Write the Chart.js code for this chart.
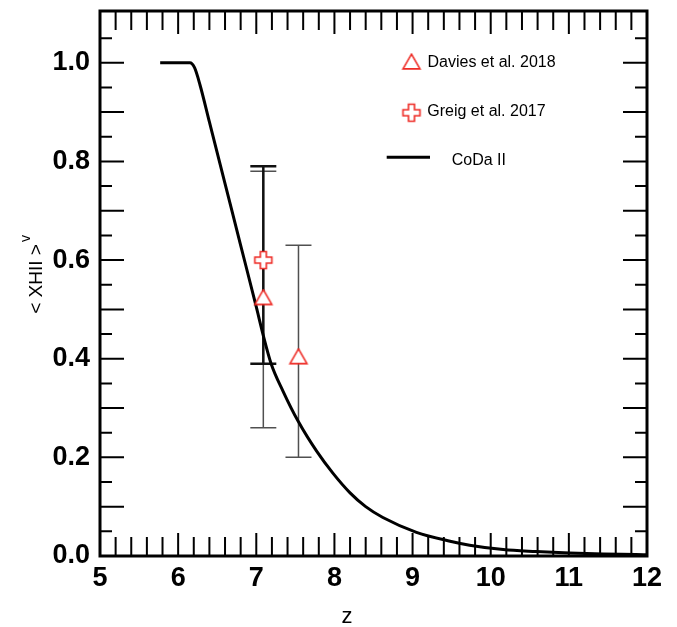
<!DOCTYPE html>
<html>
<head>
<meta charset="utf-8">
<script src="https://cdn.jsdelivr.net/npm/chart.js@4.4.1/dist/chart.umd.min.js"></script>
<style>
  html, body { margin: 0; padding: 0; background: #fff; }
  #wrap { width: 677px; height: 627px; }
</style>
</head>
<body>
<div id="wrap"><canvas id="xhiiChart" width="677" height="627"></canvas></div>
<script>
// CoDa II volume-weighted ionized fraction against redshift
const codaZ = [5.77, 6.15, 6.21, 6.28, 6.40, 6.60, 6.80, 7.00, 7.09, 7.19, 7.34, 7.54, 7.77, 7.98,
               8.20, 8.40, 8.62, 9.05, 9.48, 9.73, 10.16, 10.58, 11.01, 11.44, 11.86, 12.0];
const codaX = [1.0, 1.0, 0.99, 0.955, 0.88, 0.755, 0.63, 0.505, 0.447, 0.39, 0.335, 0.272, 0.213, 0.168,
               0.128, 0.100, 0.078, 0.048, 0.030, 0.022, 0.013, 0.009, 0.006, 0.004, 0.003, 0.0025];

// Davies et al. 2018 quasar constraints
const daviesZ  = [7.09, 7.54];
const daviesX  = [0.52, 0.40];
const daviesLo = [0.26, 0.20];
const daviesHi = [0.78, 0.63];

// Greig et al. 2017
const greigZ  = [7.09];
const greigX  = [0.60];
const greigLo = [0.39];
const greigHi = [0.79];

const xTickLabels = [5, 6, 7, 8, 9, 10, 11, 12];
const yTickLabels = [0.0, 0.2, 0.4, 0.6, 0.8, 1.0];

const RED = '#ee2a24';
const FONT = '"Liberation Sans", Arial, Helvetica, sans-serif';

function makeMarker(kind) {
  const c = document.createElement('canvas');
  c.width = 22; c.height = 22;
  const g = c.getContext('2d');
  g.translate(11, 11);
  g.beginPath();
  if (kind === 'triangle') {
    const r = 9.8;
    g.moveTo(0, -r);
    g.lineTo(r * 0.866, r / 2);
    g.lineTo(-r * 0.866, r / 2);
  } else {
    const a = 3, L = 8.5;
    g.moveTo(-a, -L); g.lineTo(a, -L); g.lineTo(a, -a); g.lineTo(L, -a);
    g.lineTo(L, a); g.lineTo(a, a); g.lineTo(a, L); g.lineTo(-a, L);
    g.lineTo(-a, a); g.lineTo(-L, a); g.lineTo(-L, -a); g.lineTo(-a, -a);
  }
  g.closePath();
  g.fillStyle = '#fff';
  g.fill();
  g.strokeStyle = RED;
  g.lineWidth = 1.6;
  g.stroke();
  return c;
}

const triMarker = makeMarker('triangle');
const plusMarker = makeMarker('plus');

const near = (v, list) => list.some(t => Math.abs(v - t) < 1e-6);

// vertical error bars with flat caps, drawn under the markers and the curve
const errorBars = {
  id: 'errorBars',
  beforeDatasetsDraw(chart) {
    const { ctx, scales: { x, y } } = chart;
    chart.data.datasets.forEach(ds => {
      if (!ds.errLo) return;
      ctx.save();
      ctx.strokeStyle = ds.errColor;
      ctx.lineWidth = ds.errWidth;
      ds.data.forEach((p, j) => {
        const px = x.getPixelForValue(p.x);
        const lo = y.getPixelForValue(ds.errLo[j]);
        const hi = y.getPixelForValue(ds.errHi[j]);
        ctx.beginPath();
        ctx.moveTo(px, lo); ctx.lineTo(px, hi);
        ctx.moveTo(px - 13, lo); ctx.lineTo(px + 13, lo);
        ctx.moveTo(px - 13, hi); ctx.lineTo(px + 13, hi);
        ctx.stroke();
      });
      ctx.restore();
    });
  }
};

// box frame with inward ticks on all four sides, legend and axis titles
const frameAndLegend = {
  id: 'frameAndLegend',
  afterDraw(chart) {
    const { ctx, chartArea: a, scales: { x, y } } = chart;
    ctx.save();
    ctx.strokeStyle = '#000';
    ctx.lineWidth = 2;
    ctx.beginPath();
    x.ticks.forEach(t => {
      const px = x.getPixelForValue(t.value);
      if (px < a.left + 3 || px > a.right - 3) return;
      const len = Math.abs(t.value - Math.round(t.value)) < 1e-6 ? 23 : 19;
      ctx.moveTo(px, a.bottom); ctx.lineTo(px, a.bottom - len);
      ctx.moveTo(px, a.top); ctx.lineTo(px, a.top + len);
    });
    y.ticks.forEach(t => {
      const py = y.getPixelForValue(t.value);
      if (py < a.top + 3 || py > a.bottom - 3) return;
      const len = Math.abs(t.value * 10 - Math.round(t.value * 10)) < 1e-6 ? 24 : 12;
      ctx.moveTo(a.left, py); ctx.lineTo(a.left + len, py);
      ctx.moveTo(a.right, py); ctx.lineTo(a.right - len, py);
    });
    ctx.stroke();

    ctx.lineWidth = 3;
    ctx.strokeRect(a.left, a.top, a.right - a.left, a.bottom - a.top);

    // legend
    const lx = a.left, ty = a.top;
    ctx.drawImage(triMarker, lx + 311.5 - 11, ty + 53 - 11);
    ctx.drawImage(plusMarker, lx + 311.5 - 11, ty + 101.7 - 11);
    ctx.beginPath();
    ctx.lineWidth = 3;
    ctx.moveTo(lx + 286.7, ty + 146.3);
    ctx.lineTo(lx + 330, ty + 146.3);
    ctx.stroke();

    ctx.fillStyle = '#000';
    ctx.font = '16px ' + FONT;
    ctx.textAlign = 'left';
    ctx.textBaseline = 'middle';
    ctx.fillText('Davies et al. 2018', lx + 327.5, ty + 51.8);
    ctx.fillText('Greig et al. 2017', lx + 327.3, ty + 101);
    ctx.fillText('CoDa II', lx + 351.7, ty + 150);

    // axis titles
    ctx.font = '22px ' + FONT;
    ctx.textAlign = 'center';
    ctx.fillText('z', 347, 617);

    ctx.translate(42, 279);
    ctx.rotate(-Math.PI / 2);
    ctx.textBaseline = 'alphabetic';
    ctx.font = '19px ' + FONT;
    ctx.fillText('< XHII >', 0, 0);
    ctx.textAlign = 'left';
    ctx.font = '14px ' + FONT;
    ctx.fillText('v', 37, -12);
    ctx.restore();
  }
};

const tickFont = { family: FONT, size: 27, weight: 'bold' };

new Chart(document.getElementById('xhiiChart'), {
  type: 'scatter',
  data: {
    datasets: [
      {
        label: 'Davies et al. 2018',
        data: daviesZ.map((z, i) => ({ x: z, y: daviesX[i] })),
        errLo: daviesLo, errHi: daviesHi, errColor: '#505050', errWidth: 1.5,
        pointStyle: triMarker, pointRadius: 10
      },
      {
        label: 'Greig et al. 2017',
        data: greigZ.map((z, i) => ({ x: z, y: greigX[i] })),
        errLo: greigLo, errHi: greigHi, errColor: '#111', errWidth: 2.5,
        pointStyle: plusMarker, pointRadius: 10
      },
      {
        label: 'CoDa II',
        type: 'line',
        data: codaZ.map((z, i) => ({ x: z, y: codaX[i] })),
        borderColor: '#000',
        borderWidth: 3,
        pointRadius: 0,
        fill: false,
        cubicInterpolationMode: 'monotone'
      }
    ]
  },
  options: {
    responsive: false,
    animation: false,
    devicePixelRatio: 1,
    layout: { padding: { top: 7, right: 30, bottom: 0, left: 0 } },
    plugins: { legend: { display: false }, tooltip: { enabled: false } },
    scales: {
      x: {
        type: 'linear', min: 5, max: 12,
        grid: { display: false, drawTicks: false },
        border: { display: false },
        ticks: {
          stepSize: 0.2, autoSkip: false, maxRotation: 0, padding: 6,
          color: '#000', font: tickFont,
          callback: v => near(v, xTickLabels) ? String(Math.round(v)) : ''
        },
        afterFit: s => { s.height = 71; s.paddingLeft = 0; s.paddingRight = 0; }
      },
      y: {
        type: 'linear', min: 0, max: 1.105,
        grid: { display: false, drawTicks: false },
        border: { display: false },
        ticks: {
          stepSize: 0.05, autoSkip: false, padding: 10,
          color: '#000', font: tickFont,
          callback: v => near(v, yTickLabels) ? v.toFixed(1) : ''
        },
        afterFit: s => { s.width = 100; s.paddingTop = 0; s.paddingBottom = 0; }
      }
    }
  },
  plugins: [errorBars, frameAndLegend]
});
</script>
</body>
</html>
